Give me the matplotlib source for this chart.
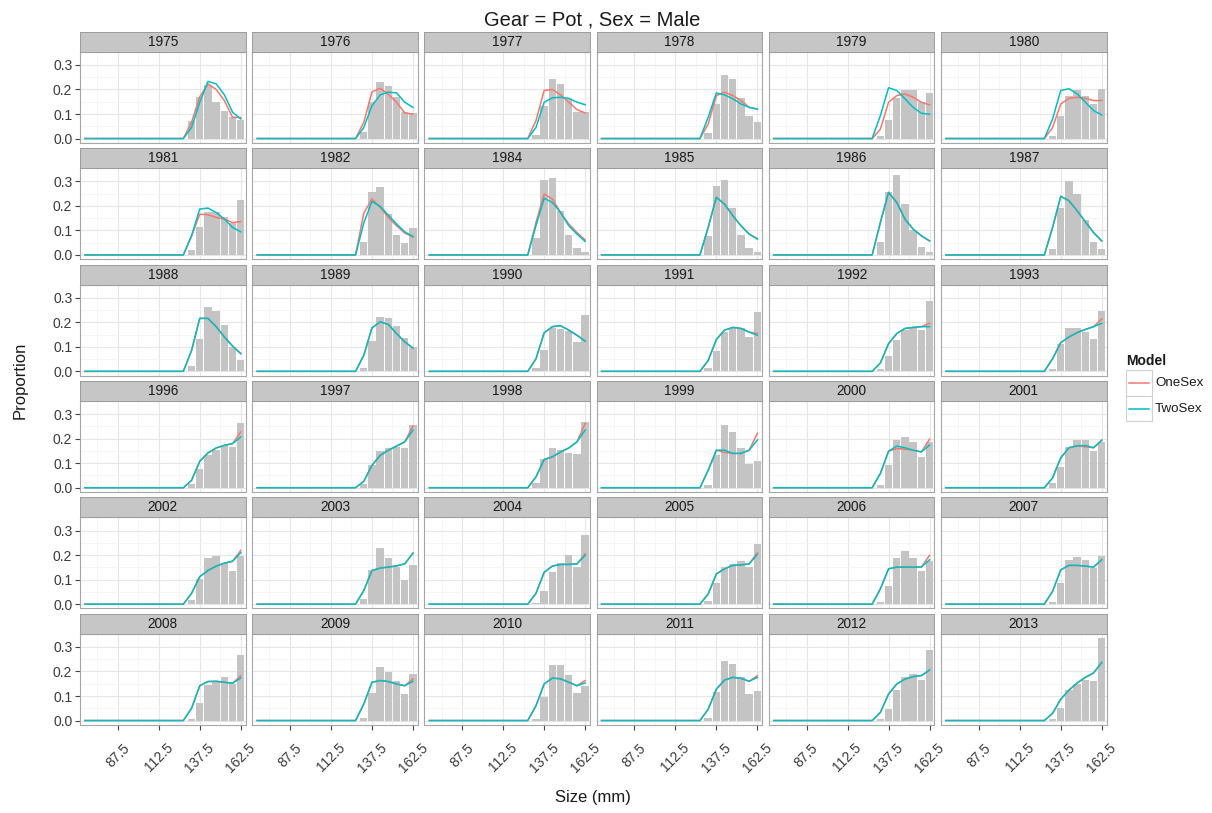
import matplotlib
matplotlib.use('Agg')
import matplotlib.pyplot as plt
import numpy as np
from matplotlib.patches import Rectangle
from matplotlib.lines import Line2D

plt.rcParams['font.family'] = ['Liberation Sans', 'DejaVu Sans']

# size bins (mm); every bin below 127.5 is empty in all years
sizes = [67.5, 72.5, 77.5, 82.5, 87.5, 92.5, 97.5, 102.5, 107.5, 112.5,
         117.5, 122.5, 127.5, 132.5, 137.5, 142.5, 147.5, 152.5, 157.5, 162.5]
n_empty = 12

years = [1975, 1976, 1977, 1978, 1979, 1980,
         1981, 1982, 1984, 1985, 1986, 1987,
         1988, 1989, 1990, 1991, 1992, 1993,
         1996, 1997, 1998, 1999, 2000, 2001,
         2002, 2003, 2004, 2005, 2006, 2007,
         2008, 2009, 2010, 2011, 2012, 2013]

# observed proportions, bins 127.5 .. 162.5
observed = [
    [0, .073, .168, .220, .148, .114, .086, .075],
    [0, .027, .150, .230, .216, .168, .107, .104],
    [0, .015, .134, .241, .223, .160, .107, .110],
    [0, .022, .140, .260, .241, .164, .093, .068],
    [0, .011, .075, .164, .199, .199, .148, .186],
    [0, .011, .093, .175, .196, .175, .141, .200],
    [0, .019, .112, .173, .173, .153, .130, .225],
    [0, .053, .255, .278, .166, .082, .048, .108],
    [0, .067, .307, .312, .180, .082, .030, .012],
    [0, .078, .282, .307, .190, .082, .030, .012],
    [0, .053, .258, .326, .207, .102, .034, .010],
    [0, .026, .190, .303, .248, .143, .053, .026],
    [0, .020, .130, .264, .246, .188, .100, .047],
    [0, .014, .123, .223, .216, .186, .134, .099],
    [0, .014, .088, .175, .171, .164, .120, .230],
    [0, .014, .082, .160, .178, .175, .141, .240],
    [0, .010, .061, .127, .168, .175, .168, .288],
    [0, .010, .113, .175, .175, .160, .133, .246],
    [0, .016, .078, .133, .153, .174, .167, .263],
    [0, .016, .091, .149, .162, .167, .162, .255],
    [0, .020, .119, .160, .153, .143, .136, .266],
    [0, .010, .133, .256, .226, .160, .096, .108],
    [0, .010, .092, .195, .208, .185, .126, .185],
    [0, .020, .085, .167, .194, .194, .149, .185],
    [0, .016, .103, .188, .195, .167, .134, .195],
    [0, .020, .140, .230, .188, .150, .099, .158],
    [0, .003, .052, .130, .168, .200, .150, .280],
    [0, .014, .086, .151, .162, .174, .151, .247],
    [0, .007, .074, .188, .216, .188, .134, .175],
    [0, .007, .086, .178, .192, .178, .148, .197],
    [0, .005, .071, .144, .160, .179, .150, .267],
    [0, .012, .112, .220, .196, .163, .108, .190],
    [0, .005, .097, .225, .225, .184, .112, .142],
    [0, .010, .118, .242, .231, .177, .108, .119],
    [0, .005, .046, .124, .176, .190, .165, .289],
    [0, .005, .053, .124, .149, .167, .160, .337],
]

one_sex = [
    [0, .066, .170, .223, .200, .155, .086, .086],
    [0, .066, .190, .205, .180, .148, .104, .100],
    [0, .073, .196, .200, .178, .148, .118, .104],
    [0, .059, .175, .189, .175, .155, .127, .120],
    [0, .038, .148, .175, .182, .168, .148, .137],
    [0, .045, .141, .164, .168, .164, .155, .155],
    [0, .078, .166, .164, .153, .146, .132, .136],
    [0, .170, .228, .194, .153, .119, .089, .074],
    [0, .132, .248, .228, .173, .126, .091, .061],
    [0, .112, .235, .207, .160, .119, .085, .067],
    [0, .132, .255, .214, .146, .105, .078, .057],
    [0, .112, .239, .221, .180, .135, .091, .057],
    [0, .085, .216, .216, .182, .140, .103, .072],
    [0, .065, .177, .202, .191, .154, .120, .095],
    [0, .051, .157, .182, .186, .168, .147, .123],
    [0, .044, .130, .168, .179, .175, .160, .154],
    [0, .034, .113, .154, .175, .179, .182, .196],
    [0, .051, .117, .140, .158, .171, .182, .214],
    [0, .030, .108, .142, .162, .173, .180, .228],
    [0, .026, .091, .132, .153, .170, .187, .252],
    [0, .044, .115, .126, .146, .162, .187, .262],
    [0, .071, .153, .144, .140, .140, .153, .222],
    [0, .058, .149, .160, .157, .153, .146, .198],
    [0, .040, .122, .163, .171, .167, .163, .194],
    [0, .044, .112, .137, .155, .167, .175, .219],
    [0, .055, .137, .147, .151, .156, .164, .208],
    [0, .044, .130, .155, .162, .162, .164, .205],
    [0, .041, .123, .144, .158, .160, .164, .210],
    [0, .062, .144, .151, .151, .151, .151, .199],
    [0, .052, .140, .158, .158, .155, .151, .181],
    [0, .050, .142, .159, .160, .156, .152, .183],
    [0, .067, .156, .163, .159, .149, .142, .170],
    [0, .060, .149, .173, .170, .156, .142, .163],
    [0, .046, .128, .165, .176, .172, .160, .183],
    [0, .033, .108, .149, .169, .179, .183, .206],
    [0, .029, .087, .124, .153, .176, .194, .237],
]

two_sex = [
    [0, .045, .148, .233, .223, .178, .107, .080],
    [0, .045, .134, .178, .189, .186, .148, .127],
    [0, .045, .148, .166, .168, .164, .148, .138],
    [0, .086, .186, .178, .162, .141, .127, .120],
    [0, .093, .207, .196, .162, .127, .103, .099],
    [0, .079, .196, .203, .182, .148, .114, .096],
    [0, .078, .187, .191, .173, .146, .112, .094],
    [0, .130, .218, .198, .162, .126, .094, .075],
    [0, .119, .231, .214, .173, .119, .085, .055],
    [0, .112, .235, .207, .160, .119, .085, .064],
    [0, .132, .255, .214, .146, .105, .078, .057],
    [0, .112, .239, .221, .180, .135, .091, .057],
    [0, .085, .216, .216, .182, .140, .103, .072],
    [0, .065, .177, .202, .191, .154, .120, .095],
    [0, .051, .157, .182, .186, .168, .147, .123],
    [0, .044, .130, .168, .179, .175, .160, .147],
    [0, .034, .113, .154, .175, .179, .182, .182],
    [0, .051, .117, .140, .158, .171, .182, .196],
    [0, .030, .108, .142, .162, .173, .180, .207],
    [0, .026, .091, .132, .153, .170, .187, .235],
    [0, .044, .115, .126, .146, .162, .187, .235],
    [0, .071, .153, .153, .140, .140, .153, .195],
    [0, .058, .149, .170, .163, .153, .146, .174],
    [0, .040, .122, .163, .171, .172, .163, .194],
    [0, .044, .112, .137, .155, .167, .175, .210],
    [0, .055, .137, .147, .151, .156, .164, .208],
    [0, .044, .130, .155, .162, .162, .164, .199],
    [0, .041, .123, .144, .158, .160, .164, .203],
    [0, .062, .144, .151, .151, .151, .151, .181],
    [0, .052, .140, .158, .158, .155, .151, .181],
    [0, .050, .142, .159, .160, .156, .152, .174],
    [0, .067, .156, .163, .159, .149, .142, .160],
    [0, .060, .149, .173, .170, .156, .142, .153],
    [0, .046, .128, .165, .176, .172, .160, .176],
    [0, .033, .108, .149, .169, .179, .183, .206],
    [0, .029, .087, .124, .153, .176, .194, .237],
]

x_ticks = [87.5, 112.5, 137.5, 162.5]
y_ticks = [0.0, 0.1, 0.2, 0.3]
model_names = ['OneSex', 'TwoSex']
model_colors = ['#F8766D', '#00BFC4']

W, H = 1212, 813
fig = plt.figure(figsize=(W / 100, H / 100), dpi=100)


def box(left, top, w, h):
    return [left / W, 1 - (top + h) / H, w / W, h / H]


def full(v):
    return [0.0] * n_empty + list(v)


ncol = 6
nrow = len(years) // ncol
for i, year in enumerate(years):
    r, c = divmod(i, ncol)
    left = 80 + c * 172.2
    top = 51.7 + r * 116.4
    ax = fig.add_axes(box(left, top, 165.7, 91))
    ax.bar(sizes, full(observed[i]), width=4.5, color='#C4C4C4', zorder=2)
    ax.plot(sizes, full(one_sex[i]), color=model_colors[0], lw=1.1, zorder=3)
    ax.plot(sizes, full(two_sex[i]), color=model_colors[1], lw=1.1, zorder=4)
    ax.set_xlim(64.5, 165.5)
    ax.set_ylim(-0.017, 0.354)
    ax.set_xticks(x_ticks)
    ax.set_xticks([75, 100, 125, 150], minor=True)
    ax.set_yticks(y_ticks)
    ax.set_yticks([0.05, 0.15, 0.25], minor=True)
    ax.grid(which='major', color='#E6E6E6', lw=0.8, zorder=0)
    ax.grid(which='minor', color='#F4F4F4', lw=0.6, zorder=0)
    ax.set_axisbelow(True)
    for s in ax.spines.values():
        s.set_color('#A6A6A6')
        s.set_linewidth(0.8)
    ax.tick_params(which='minor', length=0)
    ax.tick_params(which='major', length=3.5, width=0.8, color='#444444',
                   labelsize=10, labelcolor='#3A3A3A', pad=2)
    if c == 0:
        ax.set_yticklabels(['%.1f' % v for v in y_ticks])
    else:
        ax.tick_params(axis='y', length=0, labelleft=False)
    if r == nrow - 1:
        ax.set_xticklabels(['%g' % v for v in x_ticks], rotation=45,
                           ha='center', va='top')
        ax.tick_params(axis='x', pad=8)
    else:
        ax.tick_params(axis='x', length=0, labelbottom=False)

    # facet strip
    sax = fig.add_axes(box(left, top - 20, 165.7, 20))
    sax.set_facecolor('#C6C6C6')
    sax.set_xticks([])
    sax.set_yticks([])
    for s in sax.spines.values():
        s.set_color('#9C9C9C')
        s.set_linewidth(0.7)
    sax.text(0.5, 0.5, str(year), ha='center', va='center', fontsize=9.8,
             color='#1A1A1A', transform=sax.transAxes)

fig.text(592.5 / W, 1 - 20 / H, 'Gear = Pot , Sex = Male', ha='center',
         va='center', fontsize=14.5, color='#1A1A1A')
fig.text(593 / W, 1 - 797 / H, 'Size (mm)', ha='center', va='center',
         fontsize=12, color='#1A1A1A')
fig.text(20 / W, 1 - 380 / H, 'Proportion', ha='center', va='center',
         rotation=90, fontsize=12, color='#1A1A1A')

# legend
fig.text(1126 / W, 1 - 361 / H, 'Model', ha='left', va='center',
         fontsize=10, fontweight='bold', color='#1A1A1A')
for k, (name, col) in enumerate(zip(model_names, model_colors)):
    ktop = 370 + k * 25.7
    fig.patches.append(Rectangle((1126 / W, 1 - (ktop + 25.7) / H), 25.7 / W,
                                 25.7 / H, transform=fig.transFigure,
                                 facecolor='white', edgecolor='#CFCFCF',
                                 lw=0.8))
    yk = 1 - (ktop + 12.85) / H
    fig.lines.append(Line2D([1129 / W, 1149 / W], [yk, yk], color=col,
                            lw=1.1, transform=fig.transFigure))
    fig.text(1155 / W, yk, name, ha='left', va='center', fontsize=9.6,
             color='#1A1A1A')

fig.savefig('out.png', dpi=100)
